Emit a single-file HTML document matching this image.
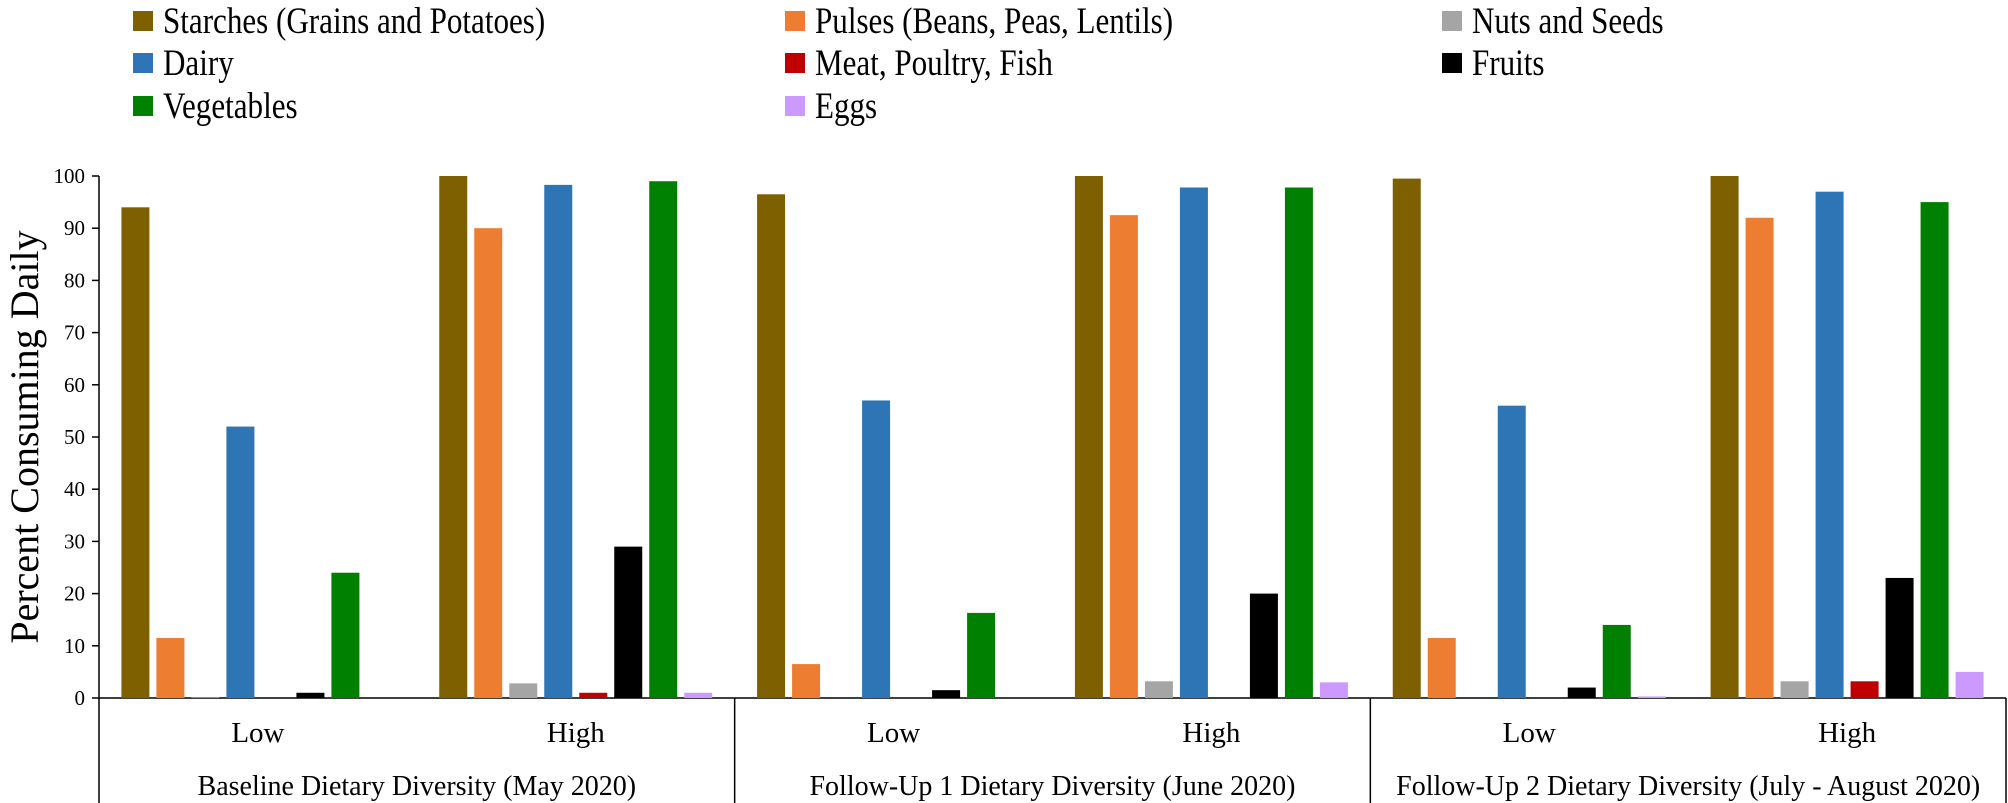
<!DOCTYPE html>
<html><head><meta charset="utf-8"><style>
body{margin:0;background:#fff;}
svg{display:block;font-family:"Liberation Serif",serif;}
svg text{font-family:"Liberation Serif",serif;}
</style></head><body>
<svg id="chart" width="2008" height="803" viewBox="0 0 2008 803">
<g id="legend"></g>
<text x="0" y="0" transform="translate(38,437) rotate(-90)" text-anchor="middle" font-size="40">Percent Consuming Daily</text>
<g id="axes"></g>
<g id="bars"></g>
</svg>
<script>
const seriesNames = ["Starches (Grains and Potatoes)","Pulses (Beans, Peas, Lentils)","Nuts and Seeds","Dairy","Meat, Poultry, Fish","Fruits","Vegetables","Eggs"];
const seriesColors = ["#7f6000","#ed7d31","#a5a5a5","#2e75b6","#c00000","#000000","#008000","#cc99ff"];
const categories = ["Low","High","Low","High","Low","High"];
const groups = ["Baseline Dietary Diversity (May 2020)","Follow-Up 1 Dietary Diversity (June 2020)","Follow-Up 2 Dietary Diversity (July - August 2020)"];
const starches = [94, 100, 96.5, 100, 99.5, 100];
const pulses = [11.5, 90, 6.5, 92.5, 11.5, 92];
const nuts = [0.1, 2.8, 0, 3.2, 0, 3.2];
const dairy = [52, 98.3, 57, 97.8, 56, 97];
const meat = [0, 1, 0, 0, 0, 3.2];
const fruits = [1, 29, 1.5, 20, 2, 23];
const vegetables = [24, 99, 16.3, 97.8, 14, 95];
const eggs = [0, 1, 0, 3, 0.3, 5];
const yTicks = [0,10,20,30,40,50,60,70,80,90,100];

const NS="http://www.w3.org/2000/svg";
const svg=document.getElementById('chart');
const X0=99, X1=2006, Y0=698, Y100=176;
const catW=(X1-X0)/categories.length;
const y=v=>Y0-(v/100)*(Y0-Y100);
const pitch=35, bw=28;
const xBar=(c,s)=>X0+c*catW+(catW-8*pitch)/2+3.5+s*pitch;
function mk(tag,attrs,parent,text){const e=document.createElementNS(NS,tag);for(const k in attrs)e.setAttribute(k,attrs[k]);if(text!==undefined)e.textContent=text;parent.appendChild(e);return e;}

const series=[starches,pulses,nuts,dairy,meat,fruits,vegetables,eggs];
const barsG=document.getElementById('bars');
series.forEach((arr,s)=>{arr.forEach((v,c)=>{
  const r=mk('rect',{x:xBar(c,s),y:y(v),width:bw,height:Math.max(0,Y0-y(v)),fill:seriesColors[s]},barsG);
  
  
});});

const ax=document.getElementById('axes');
const yl=mk('line',{x1:X0,y1:Y100,x2:X0,y2:803,stroke:'#000','stroke-width':1.5},ax);


const xl=mk('line',{x1:X0,y1:Y0,x2:X1,y2:Y0,stroke:'#000','stroke-width':1.5},ax);


yTicks.forEach(t=>{
  const tk=mk('line',{x1:X0-7,y1:y(t),x2:X0,y2:y(t),stroke:'#000','stroke-width':1.5},ax);
  
  
  const tl=mk('text',{x:X0-14,y:y(t)+7,'text-anchor':'end','font-size':21},ax,String(t));
  
  
});
groups.forEach((g,i)=>{
  const gx0=X0+i*2*catW, gx1=gx0+2*catW;
  const sep=mk('line',{x1:gx1,y1:Y0,x2:gx1,y2:803,stroke:'#000','stroke-width':1.5},ax);
  
  
  const gl=mk('text',{x:(gx0+gx1)/2,y:795,'text-anchor':'middle','font-size':28},ax,g);
  
  
});
categories.forEach((c,i)=>{
  const cl=mk('text',{x:X0+(i+0.5)*catW,y:742,'text-anchor':'middle','font-size':29},ax,c);
  
  
});

const lg=document.getElementById('legend');
const colX=[133,785,1442], rowY=[21,63,106];
seriesNames.forEach((n,s)=>{
  const col=s%3,row=Math.floor(s/3);
  const sw=mk('rect',{x:colX[col],y:rowY[row]-10,width:20,height:20,fill:seriesColors[s]},lg);
  
  
  const tx=colX[col]+30;
  const t=mk('text',{x:0,y:0,'font-size':37,transform:`translate(${tx},${rowY[row]+12}) scale(0.84,1)`},lg,n);
  
  
});
</script>
</body></html>
